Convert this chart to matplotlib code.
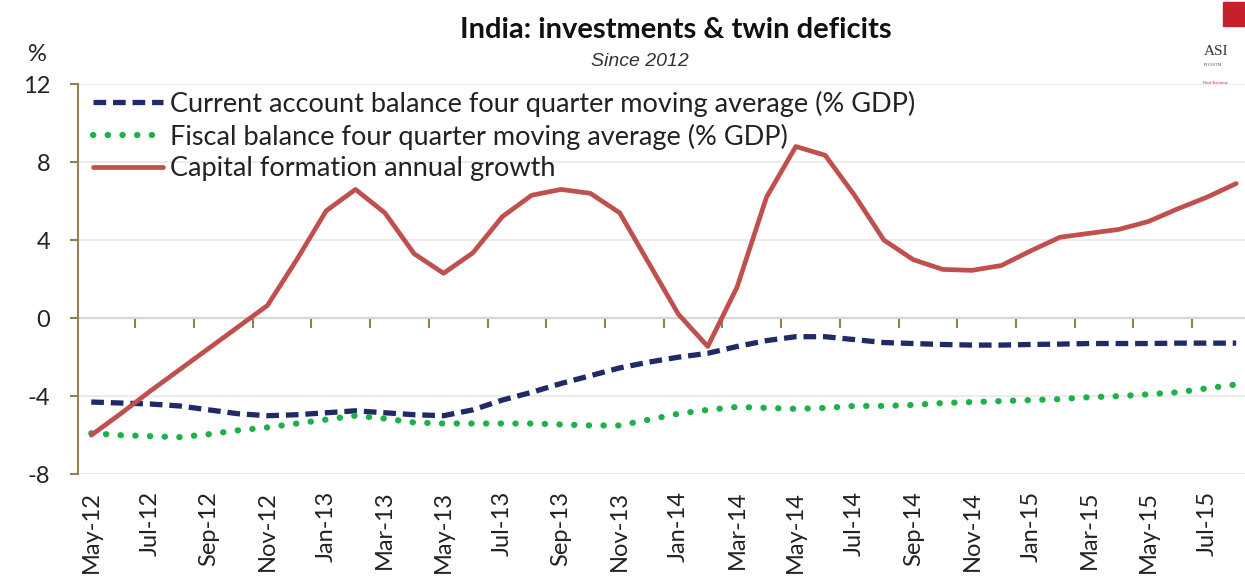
import numpy as np
import matplotlib
matplotlib.use("Agg")
import matplotlib.pyplot as plt
from matplotlib.patches import Rectangle

# === data (monthly, May-12 .. Aug-15) ===
capital_formation = [-6.0, -4.9, -3.75, -2.65, -1.55, -0.45, 0.65, 3.0, 5.5, 6.6,
                     5.4, 3.3, 2.3, 3.35, 5.2, 6.3, 6.6, 6.4, 5.4, 2.8,
                     0.2, -1.45, 1.6, 6.2, 8.8, 8.35, 6.3, 4.0, 3.0, 2.5,
                     2.45, 2.7, 3.45, 4.15, 4.35, 4.55, 4.95, 5.6, 6.2, 6.9]
current_account = [-4.3, -4.35, -4.4, -4.5, -4.7, -4.9, -5.0, -4.95, -4.85, -4.75,
                   -4.85, -4.95, -5.0, -4.7, -4.2, -3.8, -3.35, -2.95, -2.55, -2.25,
                   -2.0, -1.8, -1.45, -1.15, -0.95, -0.95, -1.1, -1.25, -1.3, -1.35,
                   -1.38, -1.38, -1.35, -1.33, -1.3, -1.3, -1.3, -1.28, -1.28, -1.28]
fiscal_balance = [-5.9, -6.0, -6.05, -6.1, -5.95, -5.75, -5.6, -5.4, -5.2, -5.0,
                  -5.15, -5.35, -5.4, -5.4, -5.4, -5.4, -5.45, -5.5, -5.5, -5.2,
                  -4.9, -4.7, -4.55, -4.6, -4.65, -4.6, -4.5, -4.5, -4.45, -4.35,
                  -4.3, -4.25, -4.2, -4.15, -4.05, -4.0, -3.9, -3.8, -3.6, -3.4]
tick_labels = ["May-12", "Jul-12", "Sep-12", "Nov-12", "Jan-13", "Mar-13", "May-13",
               "Jul-13", "Sep-13", "Nov-13", "Jan-14", "Mar-14", "May-14", "Jul-14",
               "Sep-14", "Nov-14", "Jan-15", "Mar-15", "May-15", "Jul-15"]
y_ticks = [12, 8, 4, 0, -4, -8]

plt.rcParams["axes.unicode_minus"] = False

FONT = "Lato"
AXIS_COL = "#8f8056"
RED = "#c0504d"
NAVY = "#1f2a66"
GREEN = "#1fb04a"

x = np.arange(len(capital_formation))

fig = plt.figure(figsize=(12.45, 5.84), dpi=100)
ax = fig.add_axes([0.0627, 0.188, 0.9373, 0.668])

ax.plot(x, current_account, color=NAVY, lw=3.8, dashes=(2.4, 1.3),
        dash_capstyle="butt", label="Current account balance four quarter moving average (% GDP)", zorder=3)
ax.plot(x, fiscal_balance, color=GREEN, lw=4.5, dashes=(0.05, 2.3),
        dash_capstyle="round", label="Fiscal balance four quarter moving average (% GDP)", zorder=3)
ax.plot(x, capital_formation, color=RED, lw=3.4, solid_capstyle="round",
        solid_joinstyle="round", label="Capital formation annual growth", zorder=4)

ax.set_xlim(-0.45, 39.3)
ax.set_ylim(-8, 12)

# gridlines
ax.set_yticks(y_ticks)
ax.yaxis.grid(True, color="#e8e8e8", lw=1.2)
ax.set_axisbelow(True)

# y axis
for s in ["top", "right", "bottom"]:
    ax.spines[s].set_visible(False)
ax.spines["left"].set_color(AXIS_COL)
ax.spines["left"].set_linewidth(1.5)
ax.tick_params(axis="y", colors=AXIS_COL, length=6, width=1.5, pad=14,
               labelcolor="#222222", labelsize=17)
for lab in ax.get_yticklabels():
    lab.set_fontfamily(FONT)

# category labels at the bottom (low position)
ax.set_xticks(x[::2])
ax.set_xticklabels(tick_labels, rotation=90, fontsize=17, fontfamily=FONT, color="#222222")
ax.tick_params(axis="x", length=0, pad=12)

# horizontal axis at zero with tick marks between categories
zero_ax = ax.secondary_xaxis(0.4)
zero_ax.spines["bottom"].set_color(AXIS_COL)
zero_ax.spines["bottom"].set_linewidth(1.5)
zero_ax.set_xticks(np.arange(1.5, 40, 2))
zero_ax.set_xticklabels([])
zero_ax.tick_params(axis="x", colors=AXIS_COL, length=7, width=1.5, direction="out")

leg = ax.legend(loc="upper left", bbox_to_anchor=(0.0105, 0.99), frameon=False,
                handlelength=2.6, handletextpad=0.25, labelspacing=0.25,
                borderaxespad=0.0, borderpad=0.1, prop={"family": FONT, "size": 19.5})
for t in leg.get_texts():
    t.set_color("#222222")

# titles
fig.text(0.543, 0.948, "India: investments & twin deficits", ha="center", va="center",
         fontsize=21, fontweight="bold", fontfamily=FONT, color="#111111")
fig.text(0.514, 0.894, "Since 2012", ha="center", va="center", fontsize=14,
         fontstyle="italic", fontfamily="Liberation Sans", color="#333333")
fig.text(0.030, 0.906, "%", ha="center", va="center", fontsize=17, fontfamily=FONT, color="#222222")

# logo corner (cropped)
fig.patches.append(Rectangle((0.982, 0.955), 0.02, 0.042, transform=fig.transFigure,
                             color="#c8202a", zorder=5))
fig.text(0.967, 0.912, "ASI", ha="left", va="center", fontsize=11,
         fontfamily="Liberation Serif", color="#333333")
fig.text(0.967, 0.888, "INVESTM", ha="left", va="center", fontsize=3,
         fontfamily="Liberation Serif", color="#555555")
fig.text(0.966, 0.858, "Real Extreme", ha="left", va="center", fontsize=3,
         fontfamily="Liberation Sans", color="#c8202a")

fig.savefig("out.png", dpi=100)
